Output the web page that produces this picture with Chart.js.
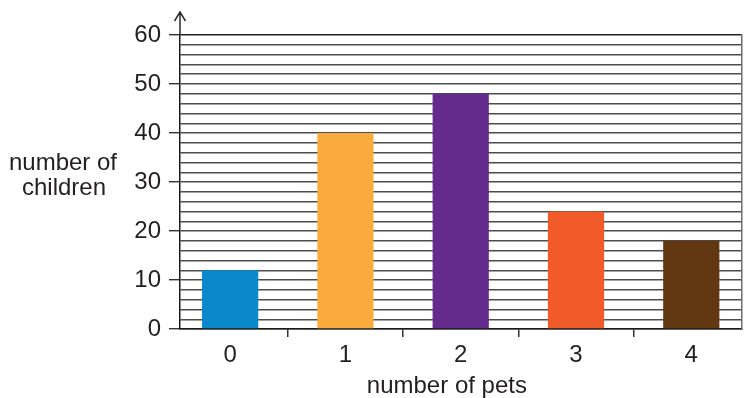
<!DOCTYPE html>
<html>
<head>
<meta charset="utf-8">
<script src="https://cdn.jsdelivr.net/npm/chart.js@4/dist/chart.umd.min.js"></script>
<style>
    html, body { margin: 0; padding: 0; background: #fff; }
    #wrap { width: 756px; height: 398px; position: relative; }
</style>
</head>
<body>
<div id="wrap"><canvas id="pets"></canvas></div>
<script>
var pets = [0, 1, 2, 3, 4];
var children = [12, 40, 48, 24, 18];
var barColors = ['#0b88cc', '#f9ac3d', '#642a8c', '#f15a29', '#623813'];
var yTicks = [0, 10, 20, 30, 40, 50, 60];
var yTitle = ['number of', 'children'];
var xTitle = 'number of pets';

var FONT = "'Liberation Sans', Arial, sans-serif";
var TEXT = '#231f20';

// bars sit on a linear x scale so the between-category tick marks can be placed at the halves
var points = [];
pets.forEach(function(p, i) {
    points.push({ x: p, y: children[i] });
});

var xTickValues = [];
pets.forEach(function(p, i) {
    xTickValues.push(p);
    if (i < pets.length - 1) xTickValues.push(p + 0.5);
});

var isHalf = function(v) {
    return Math.abs(v - Math.round(v)) > 0.01;
};

var extras = {
    id: 'extras',
    afterDraw: function(chart) {
        var ctx = chart.ctx;
        var area = chart.chartArea;
        ctx.save();

        // arrow on the y axis
        ctx.strokeStyle = '#2b2b2b';
        ctx.lineWidth = 1.5;
        ctx.beginPath();
        ctx.moveTo(area.left, area.top);
        ctx.lineTo(area.left, 12);
        ctx.moveTo(area.left - 5.5, 21);
        ctx.lineTo(area.left, 12);
        ctx.lineTo(area.left + 5.5, 21);
        ctx.stroke();

        ctx.fillStyle = TEXT;
        ctx.font = '24px ' + FONT;
        ctx.textAlign = 'center';
        ctx.textBaseline = 'alphabetic';
        var mid = (area.top + area.bottom) / 2;
        ctx.fillText(yTitle[0], 63, mid - 12);
        ctx.fillText(yTitle[1], 64, mid + 13);

        // x title sits a little left of the plot centre in the original
        ctx.fillText(xTitle, chart.scales.x.getPixelForValue(1.88), area.bottom + 64);
        ctx.restore();
    }
};

var ctx = document.getElementById('pets').getContext('2d');
var myChart = new Chart(ctx, {
    type: 'bar',
    data: {
        datasets: [{
            data: points,
            backgroundColor: barColors,
            borderWidth: 0,
            barPercentage: 0.975,
            categoryPercentage: 1
        }]
    },
    options: {
        responsive: true,
        maintainAspectRatio: false,
        animation: false,
        layout: { padding: { top: 35, right: 14, left: 0, bottom: 0 } },
        plugins: {
            legend: { display: false },
            tooltip: { enabled: false }
        },
        scales: {
            x: {
                type: 'linear',
                min: pets[0] - 0.435,
                max: pets[pets.length - 1] + 0.44,
                offset: false,
                afterBuildTicks: function(scale) {
                    scale.ticks = xTickValues.map(function(v) { return { value: v }; });
                },
                afterFit: function(scale) {
                    scale.height = 69;
                },
                border: { display: true, color: '#1a1a1a', width: 1.5 },
                grid: {
                    offset: false,
                    drawOnChartArea: false,
                    tickLength: 8,
                    lineWidth: 1.5,
                    color: function(c) {
                        return c.tick && isHalf(c.tick.value) ? '#333' : 'rgba(0,0,0,0)';
                    }
                },
                ticks: {
                    autoSkip: false,
                    maxRotation: 0,
                    padding: 4,
                    color: TEXT,
                    font: { family: FONT, size: 24 },
                    callback: function(v) {
                        return pets.indexOf(v) >= 0 ? String(v) : '';
                    }
                }
            },
            y: {
                min: 0,
                max: 60,
                afterFit: function(scale) {
                    scale.width = 180;
                },
                border: { display: true, color: '#1a1a1a', width: 1.5 },
                grid: {
                    tickLength: 11,
                    lineWidth: 1.4,
                    color: function(c) {
                        return c.tick && c.tick.value === 60 ? '#222' : '#4d4d4d';
                    },
                    tickColor: function(c) {
                        return c.tick && yTicks.indexOf(c.tick.value) >= 0 ? '#333' : 'rgba(0,0,0,0)';
                    }
                },
                ticks: {
                    stepSize: 2,
                    autoSkip: false,
                    padding: 8,
                    color: TEXT,
                    font: { family: FONT, size: 24 },
                    callback: function(v) {
                        return yTicks.indexOf(v) >= 0 ? String(v) : '';
                    }
                }
            },
            // right-hand frame line only
            yRight: {
                position: 'right',
                min: 0,
                max: 60,
                afterFit: function(scale) {
                    scale.width = 0;
                },
                border: { display: true, color: '#6e6e6e', width: 1.5 },
                grid: { display: false },
                ticks: { display: false }
            }
        }
    },
    plugins: [extras]
});
</script>
</body>
</html>
